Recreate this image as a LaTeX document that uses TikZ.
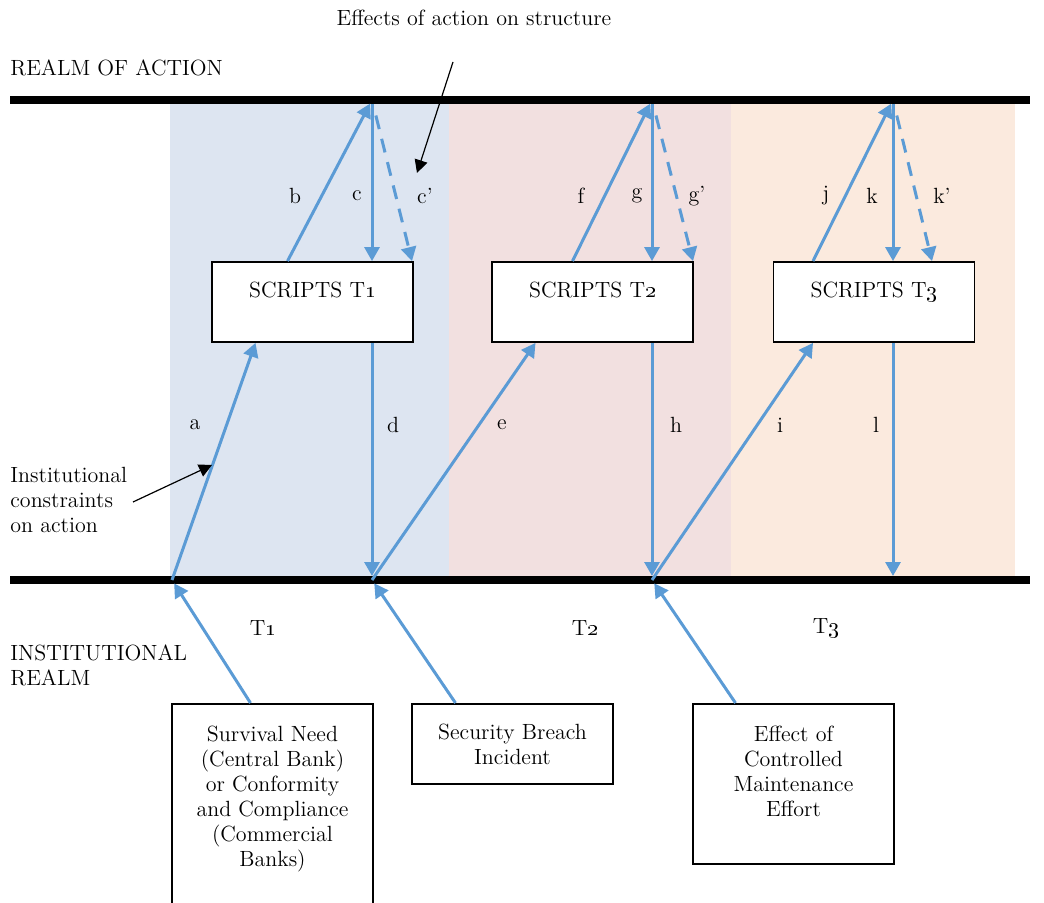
\documentclass[tikz,border=0pt]{standalone}
\usetikzlibrary{arrows.meta,calc}

\definecolor{flowblue}{RGB}{91,155,213}
\definecolor{bandblue}{RGB}{221,229,241}
\definecolor{bandpink}{RGB}{242,224,224}
\definecolor{bandpeach}{RGB}{251,234,222}

\begin{document}
\begin{tikzpicture}[x=0.5pt,y=-0.5pt,
  every node/.style={font=\fontsize{11}{12.5}\selectfont},
  flow/.style={draw=flowblue,line width=1.5pt,-{Triangle[length=7pt,width=7.5pt]}},
  effect/.style={flow,dash pattern=on 7pt off 5pt},
  scriptbox/.style={draw,line width=0.9pt,fill=white,minimum width=100.5pt,minimum height=40pt,align=center},
  causebox/.style={draw,line width=0.9pt,fill=white,minimum width=100.5pt,anchor=north,align=center},
  note/.style={draw=black,line width=0.6pt,-{Triangle[length=6.5pt,width=6.5pt]}},
  realm/.style={line width=4pt},
  plain/.style={anchor=west,align=left,inner xsep=0pt}]

\useasboundingbox (0,0) rectangle (1044,903);

% Bands
\fill[bandblue] (170,100) rectangle (449,580);
\fill[bandpink] (449,100) rectangle (731,580);
\fill[bandpeach] (731,100) rectangle (1015,580);

% Realms
\draw[realm] (10,100) -- (1030,100);
\draw[realm] (10,580) -- (1030,580);

\node[plain] (act) at (10,68) {REALM OF ACTION};
\node[plain] (inst) at (10,665) {INSTITUTIONAL\\REALM};
\node[plain] (cons) at (10,500) {Institutional\\constraints\\on action};
\node (eff) at (474,18) {Effects of action on structure};

% Points on the realms
\coordinate (top1) at (372,100);
\coordinate (top2) at (652,100);
\coordinate (top3) at (893,100);
\coordinate (bot0) at (172,580);
\coordinate (bot1) at (372,580);
\coordinate (bot2) at (652,580);
\coordinate (bot3) at (893,580);

% Scripts
\node[scriptbox] (s1) at (312.5,302) {SCRIPTS T\oldstylenums{1}\\ \mbox{}};
\node[scriptbox] (s2) at (592.5,302) {SCRIPTS T\oldstylenums{2}\\ \mbox{}};
\node[scriptbox] (s3) at (874,302) {SCRIPTS T\oldstylenums{3}\\ \mbox{}};

% Causes
\node[causebox,minimum height=105pt] (need) at (272.5,703) {Survival Need\\(Central Bank)\\or Conformity\\and Compliance\\(Commercial\\Banks)\\ \mbox{}};
\node[causebox,minimum height=40pt] (breach) at (512.5,703) {Security Breach\\Incident};
\node[causebox,minimum height=80pt] (maint) at (793.5,703) {Effect of\\Controlled\\Maintenance\\Effort\\ \mbox{}};

% T1
\draw[flow] (bot0) -- ($(s1.south)+(-57,0)$);
\draw[flow,shorten >=2pt] ($(s1.north)+(-25,0)$) -- (top1);
\draw[flow,shorten <=2pt] (top1) -- (top1 |- s1.north);
\draw[effect,shorten <=8pt] (top1) -- ($(top1 |- s1.north)+(40,0)$);
\draw[flow,shorten >=2pt] (top1 |- s1.south) -- (bot1);

% T2
\draw[flow] (bot1) -- ($(s2.south)+(-57,0)$);
\draw[flow,shorten >=2pt] ($(s2.north)+(-20,0)$) -- (top2);
\draw[flow,shorten <=2pt] (top2) -- (top2 |- s2.north);
\draw[effect,shorten <=8pt] (top2) -- ($(top2 |- s2.north)+(41,0)$);
\draw[flow,shorten >=2pt] (top2 |- s2.south) -- (bot2);

% T3
\draw[flow] (bot2) -- ($(s3.south)+(-61,0)$);
\draw[flow,shorten >=2pt] ($(s3.north)+(-61,0)$) -- (top3);
\draw[flow,shorten <=2pt] (top3) -- (top3 |- s3.north);
\draw[effect,shorten <=8pt] (top3) -- ($(top3 |- s3.north)+(39,0)$);
\draw[flow,shorten >=2pt] (top3 |- s3.south) -- (bot3);

% Institutional inputs
\draw[flow,shorten >=2pt] ($(need.north)+(-22,0)$) -- (bot0);
\draw[flow,shorten >=2pt] ($(breach.north)+(-57,0)$) -- (bot1);
\draw[flow,shorten >=2pt] ($(maint.north)+(-58,0)$) -- (bot2);

% Labels
\node (la) at (195,425) {a};
\node (lb) at (295,196) {b};
\node (lc) at (357,196) {c};
\node (lcc) at (425,196) {c'};
\node (ld) at (393,425) {d};
\node (le) at (502,425) {e};
\node (lf) at (581,196) {f};
\node (lg) at (637,196) {g};
\node (lgg) at (697,196) {g'};
\node (lh) at (676,425) {h};
\node (li) at (780,425) {i};
\node (lj) at (826,196) {j};
\node (lk) at (872,196) {k};
\node (lkk) at (942,196) {k'};
\node (ll) at (876,425) {l};

\node (t1) at (263,628) {T\oldstylenums{1}};
\node (t2) at (585,628) {T\oldstylenums{2}};
\node (t3) at (826,628) {T\oldstylenums{3}};

% Notes
\coordinate (efftail) at (453,62);
\coordinate (efftip) at (417,173);
\draw[note] (efftail) -- (efftip);
\coordinate (constail) at (133,502);
\coordinate (constip) at (212,465);
\draw[note] (constail) -- (constip);

\end{tikzpicture}
\end{document}
